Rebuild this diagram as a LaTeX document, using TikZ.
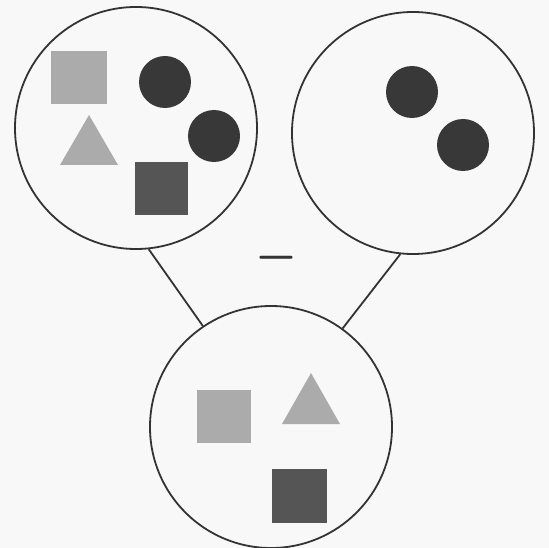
\documentclass[tikz,border=0pt]{standalone}
\usetikzlibrary{calc}
\definecolor{bg}{HTML}{F8F8F8}
\definecolor{ink}{HTML}{333333}
\definecolor{lightg}{HTML}{ABABAB}
\definecolor{darkc}{HTML}{383838}
\definecolor{darks}{HTML}{555555}
\tikzset{
  setcircle/.style={circle, draw=ink, line width=1.8pt, fill=bg, inner sep=0pt, minimum size=242pt},
  link/.style={draw=ink, line width=1.8pt},
  lsq/.style={fill=lightg},
  dsq/.style={fill=darks},
  dball/.style={fill=darkc},
  ltri/.style={fill=lightg},
}
\begin{document}
\begin{tikzpicture}[x=1pt,y=-1pt]
\fill[bg] (0,0) rectangle (549,548);
\useasboundingbox (0,0) rectangle (549,548);
% set circles
\node[setcircle] (L) at (136,128) {};
\node[setcircle] (R) at (413,133) {};
\node[setcircle] (B) at (271,427) {};
% connectors
\draw[link] (L.-84) -- (B.124);
\draw[link] (R.-96) -- (B.54);
% minus sign
\node[inner sep=0pt, text=ink] (minus) at (276,258) {\scalebox{5.4}[7.5]{$-$}};
% left set contents
\fill[lsq] (51,51) rectangle (107,104);
\fill[dball] (165,82) circle (26);
\fill[dball] (214,136) circle (26);
\fill[ltri] (89,115) -- (118,165) -- (60,165) -- cycle;
\fill[dsq] (135,162) rectangle (188,215);
% right set contents
\fill[dball] (412,92) circle (26);
\fill[dball] (463,145) circle (26);
% bottom set contents
\fill[lsq] (197,390) rectangle (251,443);
\fill[ltri] (311,373) -- (340,424) -- (282,424) -- cycle;
\fill[dsq] (272,469) rectangle (327,523);
\end{tikzpicture}
\end{document}
